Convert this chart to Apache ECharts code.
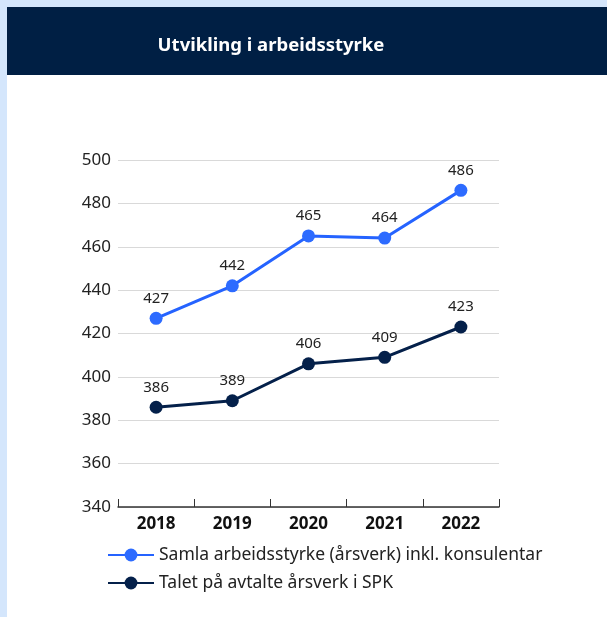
<!DOCTYPE html>
<html>
<head>
<meta charset="utf-8">
<script src="https://cdn.jsdelivr.net/npm/echarts@6/dist/echarts.min.js"></script>
<style>
  html, body { margin: 0; padding: 0; background: #d4e6fc; }
  #chart { width: 607px; height: 617px; }
</style>
</head>
<body>
<div id="chart"></div>
<script>
// Workforce development, 2018–2022
const years = ['2018', '2019', '2020', '2021', '2022'];
const totalLabel = 'Samla arbeidsstyrke (årsverk) inkl. konsulentar';
const totalValues = [427, 442, 465, 464, 486];
const spkLabel = 'Talet på avtalte årsverk i SPK';
const spkValues = [386, 389, 406, 409, 423];
const yTicks = { min: 340, max: 500, step: 20 };

const FONT = '"Noto Sans", sans-serif';
const BLUE = '#2563ff';
const NAVY = '#04204a';

const chart = echarts.init(document.getElementById('chart'), null, { renderer: 'canvas' });

chart.setOption({
  backgroundColor: '#d4e6fc',
  textStyle: { fontFamily: FONT },
  graphic: [
    { type: 'rect', z: -10, shape: { x: 7, y: 7, width: 600, height: 610 }, style: { fill: '#ffffff' } },
    { type: 'rect', z: -9, shape: { x: 7, y: 7, width: 600, height: 68 }, style: { fill: '#001f44' } },
    {
      type: 'text', z: 10, x: 271, y: 46,
      style: {
        text: 'Utvikling i arbeidsstyrke', align: 'center', verticalAlign: 'middle',
        fill: '#ffffff', fontSize: 18.5, fontWeight: 'bold', fontFamily: FONT
      }
    }
  ],
  legend: {
    orient: 'vertical',
    left: 102,
    top: 541,
    itemWidth: 46,
    itemHeight: 16,
    itemGap: 10,
    textStyle: { fontSize: 17.5, color: '#222222', fontFamily: FONT },
    data: [totalLabel, spkLabel]
  },
  grid: { left: 118, right: 108, top: 160, bottom: 110, containLabel: false },
  xAxis: {
    type: 'category',
    data: years,
    boundaryGap: true,
    axisLine: { lineStyle: { color: '#333333', width: 1.5 } },
    axisTick: { show: true, inside: true, length: 8, interval: 0, lineStyle: { color: '#333333', width: 1 } },
    axisLabel: { fontSize: 17, fontWeight: 'bold', color: '#111111', margin: 9, fontFamily: FONT },
    splitLine: { show: false }
  },
  yAxis: {
    type: 'value',
    min: yTicks.min,
    max: yTicks.max,
    interval: yTicks.step,
    axisLine: { show: false },
    axisTick: { show: false },
    axisLabel: { fontSize: 17, color: '#222222', margin: 7, fontFamily: FONT },
    splitLine: { lineStyle: { color: '#d9d9d9', width: 1 } }
  },
  series: [
    {
      name: totalLabel,
      type: 'line',
      data: totalValues,
      symbol: 'circle',
      symbolSize: 13,
      lineStyle: { color: BLUE, width: 3 },
      itemStyle: { color: '#2d6bff' },
      label: { show: true, position: 'top', distance: 6, fontSize: 15, color: '#222222', fontFamily: FONT }
    },
    {
      name: spkLabel,
      type: 'line',
      data: spkValues,
      symbol: 'circle',
      symbolSize: 13,
      lineStyle: { color: NAVY, width: 3 },
      itemStyle: { color: NAVY },
      label: { show: true, position: 'top', distance: 6, fontSize: 15, color: '#222222', fontFamily: FONT }
    }
  ],
  animation: false
});
</script>
</body>
</html>
